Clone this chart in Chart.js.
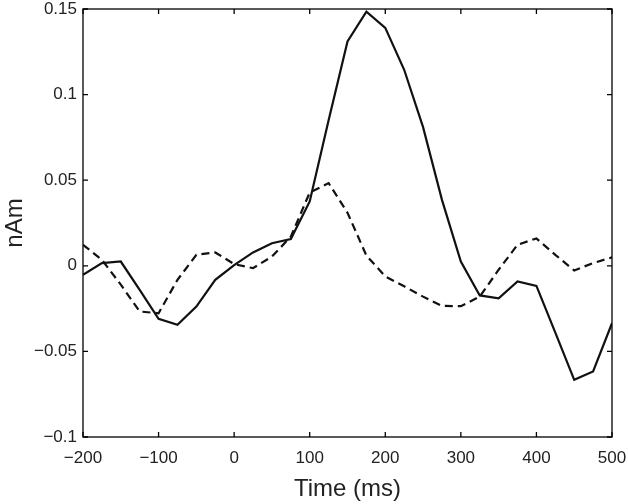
<!DOCTYPE html>
<html>
<head>
<meta charset="utf-8">
<script src="https://cdn.jsdelivr.net/npm/chart.js@4"></script>
<style>
  html, body { margin: 0; padding: 0; background: #fff; }
  #wrap { width: 628px; height: 504px; }
</style>
</head>
<body>
<div id="wrap"><canvas id="chart" width="628" height="504"></canvas></div>
<script>
// ---- 데이터 ----
const times = [-200,-175,-150,-125,-100,-75,-50,-25,0,25,50,75,100,125,150,175,200,225,250,275,300,325,350,375,400,425,450,475,500];
const solid = [-0.0053,0.0016,0.0025,-0.014,-0.031,-0.0345,-0.0238,-0.0082,0.0004,0.0078,0.0132,0.0156,0.0376,0.085,0.131,0.1485,0.139,0.1145,0.081,0.0385,0.0025,-0.0173,-0.019,-0.0091,-0.0117,-0.039,-0.0666,-0.0617,-0.0335];
const dashed = [0.0123,0.0035,-0.011,-0.0267,-0.0277,-0.0082,0.0064,0.0078,0.001,-0.0014,0.0054,0.017,0.0428,0.0483,0.031,0.006,-0.0062,-0.012,-0.018,-0.0234,-0.0236,-0.018,-0.0023,0.0123,0.016,0.0064,-0.0027,0.0016,0.0049];
const xTicks = [-200,-100,0,100,200,300,400,500];
const yTicks = [-0.1,-0.05,0,0.05,0.1,0.15];

const FONT = "'Liberation Sans', Arial, sans-serif";
const minus = s => String(s).replace('-', '\u2212');
const pts = ys => times.map((t,i) => ({x:t, y:ys[i]}));

// ---- 축 박스 + 안쪽 눈금 ----
const frame = {
  id: 'frame',
  afterDraw(chart){
    const {ctx, chartArea:a, scales:{x, y}} = chart;
    const L = 5;
    ctx.save();
    ctx.strokeStyle = '#000';
    ctx.lineWidth = 1.3;
    ctx.strokeRect(a.left, a.top, a.right - a.left, a.bottom - a.top);
    ctx.beginPath();
    xTicks.forEach(v => {
      const px = x.getPixelForValue(v);
      ctx.moveTo(px, a.bottom); ctx.lineTo(px, a.bottom - L);
      ctx.moveTo(px, a.top); ctx.lineTo(px, a.top + L);
    });
    yTicks.forEach(v => {
      const py = y.getPixelForValue(v);
      ctx.moveTo(a.left, py); ctx.lineTo(a.left + L, py);
      ctx.moveTo(a.right, py); ctx.lineTo(a.right - L, py);
    });
    ctx.stroke();
    ctx.restore();
  }
};

new Chart(document.getElementById('chart'), {
  type: 'line',
  data: {
    datasets: [
      { data: pts(solid), borderColor:'#111', borderWidth:2.2, pointRadius:0, tension:0, fill:false },
      { data: pts(dashed), borderColor:'#111', borderWidth:2.2, borderDash:[8,5], pointRadius:0, tension:0, fill:false }
    ]
  },
  options: {
    responsive: false,
    animation: false,
    layout: { padding: { top: 9, right: 16, left: 0, bottom: 0 } },
    plugins: { legend: { display:false }, tooltip: { enabled:false } },
    scales: {
      x: {
        type: 'linear', min: -200, max: 500,
        afterBuildTicks: s => { s.ticks = xTicks.map(v => ({value:v})); },
        afterFit: s => { s.height = 67; s.paddingLeft = 0; s.paddingRight = 0; },
        grid: { display:false, drawTicks:false },
        border: { display:false },
        ticks: { color:'#222', font:{ family:FONT, size:17 }, padding:11, maxRotation:0, callback: v => minus(v) },
        title: { display:true, text:'Time (ms)', color:'#222', font:{ family:FONT, size:24 }, padding:{ top:2, bottom:0 } }
      },
      y: {
        min: -0.1, max: 0.15,
        afterBuildTicks: s => { s.ticks = yTicks.map(v => ({value:v})); },
        afterFit: s => { s.width = 83; s.paddingTop = 0; s.paddingBottom = 0; },
        grid: { display:false, drawTicks:false },
        border: { display:false },
        ticks: { color:'#222', font:{ family:FONT, size:17 }, padding:6, callback: v => minus(+v.toFixed(2)) },
        title: { display:true, text:'nAm', color:'#222', font:{ family:FONT, size:24 }, padding:{ top:1, bottom:4 } }
      }
    }
  },
  plugins: [frame]
});
</script>
</body>
</html>
